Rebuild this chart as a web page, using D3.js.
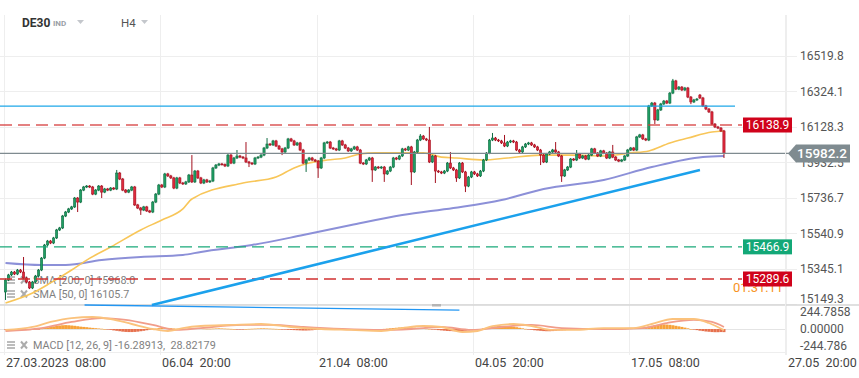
<!DOCTYPE html>
<html>
<head>
<meta charset="utf-8">
<script src="https://cdn.jsdelivr.net/npm/d3@7"></script>
<style>
  body { margin: 0; background: #fff; }
  svg { display: block; font-family: Roboto, "Noto Sans", sans-serif; }
  text { white-space: pre; }
</style>
</head>
<body>
<svg id="chart" width="859" height="378"></svg>
<script>
// ---- data (DE30, H4) ----
const opens = [
  15218,15284,15312,15328,15317,15339,15328,15295,15273,15240,
  15273,15306,15339,15405,15477,15499,15488,15516,15560,15571,
  15637,15659,15676,15687,15736,15714,15780,15797,15802,15797,
  15758,15780,15802,15769,15786,15780,15791,15786,15874,15841,
  15780,15769,15780,15797,15698,15681,15670,15687,15665,15659,
  15714,15758,15808,15797,15869,15858,15847,15791,15847,15819,
  15814,15825,15863,15825,15885,15847,15819,15836,15825,15830,
  15902,15918,15924,15921,15913,15973,15929,15957,15968,15962,
  15957,15935,15929,15924,15957,15962,15973,16012,16034,16029,
  16051,16023,16007,15990,16012,16062,16051,16029,16040,16001,
  15929,15946,15957,15946,15940,15902,15957,16040,16045,16012,
  16007,16001,16051,16029,16012,15996,16007,16018,16001,15929,
  15924,15946,15957,15891,15907,15902,15907,15869,15885,15907,
  15957,15951,15968,16007,16001,16018,15880,15990,16056,16078,
  16062,16056,15935,15968,15885,15880,15874,15885,15929,15902,
  15891,15847,15929,15880,15802,15852,15880,15869,15858,15885,
  15946,15984,16056,16067,16056,16051,16040,16023,16045,16051,
  16045,16001,15990,16018,16034,16040,16029,16018,16001,15973,
  15935,15979,15990,16001,15990,15968,15858,15891,15907,15951,
  15946,15979,15957,15968,15951,15973,16007,15984,15968,15996,
  15984,15957,15990,15962,15946,15940,15946,15968,16001,16012,
  16001,16073,16084,16062,16056,16244,16260,16167,16222,16255,
  16271,16260,16315,16382,16337,16348,16332,16343,16293,16266,
  16277,16304,16288,16244,16227,16211,16144,16128,16122,16106
];
const highs = [
  15292,15318,15334,15334,15345,15345,15411,15301,15279,15279,
  15312,15345,15411,15483,15505,15505,15522,15566,15577,15643,
  15665,15682,15693,15742,15742,15786,15803,15808,15808,15803,
  15786,15808,15808,15792,15792,15797,15797,15891,15880,15847,
  15786,15786,15803,15803,15704,15687,15693,15693,15671,15720,
  15764,15814,15814,15875,15875,15864,15853,15853,15853,15825,
  15831,15869,15973,15891,15891,15853,15842,15842,15836,15908,
  15924,15930,15930,15927,15979,15979,15963,16001,15974,15968,
  16045,15941,15935,15963,15968,15979,16018,16067,16040,16057,
  16057,16029,16013,16018,16068,16068,16057,16046,16046,16007,
  15952,15963,15963,15952,15946,15963,16046,16051,16051,16018,
  16013,16057,16057,16035,16018,16013,16024,16024,16007,15935,
  15952,15963,15963,15913,15913,15913,15913,15891,15913,15963,
  15963,15974,16013,16013,16024,16024,15996,16062,16089,16084,
  16068,16128,15974,15974,15891,15886,15891,15935,15990,15908,
  15897,15935,15935,15886,15858,15886,15886,15875,15891,15952,
  15990,16062,16095,16073,16062,16057,16084,16051,16057,16057,
  16051,16007,16024,16040,16046,16046,16035,16024,16007,15979,
  15985,15996,16007,16045,15996,15974,15897,15913,15957,15957,
  16001,15985,15974,15974,15979,16013,16013,15990,16002,16002,
  15990,15996,16029,15968,15952,15952,15974,16007,16018,16018,
  16079,16090,16090,16068,16250,16266,16266,16228,16261,16277,
  16277,16321,16393,16388,16354,16354,16349,16349,16299,16283,
  16288,16310,16294,16250,16233,16217,16150,16134,16128,16112
];
const lows = [
  15174,15278,15306,15311,15311,15322,15289,15267,15234,15234,
  15267,15300,15333,15399,15471,15482,15482,15510,15554,15565,
  15631,15653,15670,15681,15659,15708,15774,15791,15791,15752,
  15752,15774,15736,15763,15774,15774,15780,15780,15835,15774,
  15763,15763,15774,15692,15675,15643,15664,15659,15653,15653,
  15708,15752,15791,15791,15852,15841,15785,15785,15813,15808,
  15808,15819,15819,15819,15841,15813,15813,15819,15819,15824,
  15896,15912,15915,15907,15907,15923,15923,15951,15956,15951,
  15929,15907,15918,15918,15951,15956,15967,16006,16023,16023,
  16017,16001,15973,15984,16006,16045,16023,16023,15995,15923,
  15880,15940,15940,15934,15847,15896,15951,16034,16006,16001,
  15995,15995,16023,16006,15990,15990,16001,15995,15923,15918,
  15918,15940,15825,15885,15896,15896,15825,15863,15879,15901,
  15945,15945,15962,15995,15995,15808,15874,15984,16050,16056,
  16050,15929,15929,15819,15874,15868,15868,15879,15896,15885,
  15825,15841,15874,15769,15796,15846,15863,15852,15852,15879,
  15940,15978,16050,16050,16045,16034,16017,16017,16039,16039,
  15995,15984,15984,16012,16028,16023,16012,15995,15918,15929,
  15929,15973,15984,15984,15962,15825,15852,15885,15901,15940,
  15940,15951,15951,15945,15945,15967,15978,15962,15962,15978,
  15951,15951,15956,15940,15934,15934,15940,15962,15995,15995,
  15995,16067,16056,16050,16050,16238,16144,16161,16216,16249,
  16254,16254,16309,16331,16331,16326,16326,16287,16254,16260,
  16271,16282,16238,16221,16205,16138,16122,16116,16100,15957
];
const closes = [
  15284,15312,15328,15317,15339,15328,15295,15273,15240,15273,
  15306,15339,15405,15477,15499,15488,15516,15560,15571,15637,
  15659,15676,15687,15736,15714,15780,15797,15802,15797,15758,
  15780,15802,15769,15786,15780,15791,15786,15874,15841,15780,
  15769,15780,15797,15698,15681,15670,15687,15665,15659,15714,
  15758,15808,15797,15869,15858,15847,15791,15847,15819,15814,
  15825,15863,15825,15885,15847,15819,15836,15825,15830,15902,
  15918,15924,15921,15913,15973,15929,15957,15968,15962,15957,
  15935,15929,15924,15957,15962,15973,16012,16034,16029,16051,
  16023,16007,15990,16012,16062,16051,16029,16040,16001,15929,
  15946,15957,15946,15940,15902,15957,16040,16045,16012,16007,
  16001,16051,16029,16012,15996,16007,16018,16001,15929,15924,
  15946,15957,15891,15907,15902,15907,15869,15885,15907,15957,
  15951,15968,16007,16001,16018,15880,15990,16056,16078,16062,
  16056,15935,15968,15885,15880,15874,15885,15929,15902,15891,
  15847,15929,15880,15802,15852,15880,15869,15858,15885,15946,
  15984,16056,16067,16056,16051,16040,16023,16045,16051,16045,
  16001,15990,16018,16034,16040,16029,16018,16001,15973,15935,
  15979,15990,16001,15990,15968,15858,15891,15907,15951,15946,
  15979,15957,15968,15951,15973,16007,15984,15968,15996,15984,
  15957,15990,15962,15946,15940,15946,15968,16001,16012,16001,
  16073,16084,16062,16056,16244,16260,16167,16222,16255,16271,
  16260,16315,16382,16337,16348,16332,16343,16293,16266,16277,
  16282,16288,16244,16227,16211,16144,16128,16122,16106,15982.2
];

// moving averages, read at sample candles
const sma50Idx  = [0,9,15,22,27,35,45,52,59,62,79,90,96,101,107,113,118,123,134,139,145,150,159,167,178,188,199,208,214,221,227,235,239];
const sma50Vals = [15157,15212,15268,15339,15394,15466,15560,15615,15676,15731,15819,15852,15902,15929,15946,15957,15979,15985,15985,15985,15962,15957,15946,15957,15973,15973,15968,15985,15996,16040,16067,16100,16105.7];
const sma200Idx  = [0,12,20,32,45,59,65,82,99,115,132,149,165,179,199,215,232,239];
const sma200Vals = [15378,15367,15367,15394,15411,15422,15439,15477,15532,15587,15642,15681,15725,15786,15836,15907,15962,15968.0];

// MACD [12, 26, 9]
const macdIdx  = [0,9,15,22,29,35,42,49,54,59,65,75,85,95,105,115,125,132,139,145,152,157,162,169,175,182,189,199,209,215,222,229,234,239];
const macdVals = [-14,29,101,158,173,144,72,0,-29,14,43,58,72,29,0,-14,-29,14,43,29,-43,-29,43,72,43,-14,-14,14,14,72,144,144,86,-16.28913];
const signalIdx  = [0,12,22,32,40,49,57,65,79,89,99,112,125,135,145,155,165,175,185,199,212,220,229,235,239];
const signalVals = [-29,14,101,158,130,58,-14,14,58,58,29,0,-14,0,29,-14,29,58,14,0,14,86,130,101,28.82179];
const histVals = [
  -8,-10,-12,-12,-10,-8,-10,-14,-16,-12,-8,-4,
  6,14,22,30,38,44,50,54,56,54,50,46,40,34,30,26,20,16,12,
  8,4,0,-6,-12,
  -20,-26,-32,-38,-42,-44,-44,-42,-38,-32,-26,-18,-10,
  -2,6,12,16,18,16,12,
  8,4,2,0,4,8,10,12,10,8,6,4,4,6,8,10,8,6,4,2,0,-2,-4,-2,0,2,4,
  6,8,10,10,8,6,4,2,0,-4,-8,-12,-14,-16,-18,-20,-22,
  -22,-20,-18,-14,-10,-6,-2,2,4,6,6,4,2,0,-2,-4,-6,-10,-14,-16,-18,
  -16,-14,-10,-6,-2,2,6,10,14,18,22,24,26,26,24,
  20,16,14,10,6,2,-4,-10,-16,-20,-24,-28,-30,-32,-32,
  -30,-28,-26,-22,-18,-12,-6,0,8,16,
  24,32,38,42,44,44,42,38,32,26,18,10,2,-6,-12,
  -18,-22,-26,-30,-32,-32,-30,-26,-22,-20,-18,-14,-10,-6,-2,2,6,10,12,14,
  14,12,10,8,6,4,2,0,0,2,4,6,8,10,14,18,24,
  30,38,46,54,60,64,66,64,60,54,46,38,30,20,10,0,
  -8,-16,-24,-30,-36,-40,-44,-46,-46,-44,-45
];

// horizontal levels and drawn lines
const levelRed1 = 16138.9, levelLast = 15982.2, levelGreen = 15466.9, levelRed2 = 15289.6;
const resistance = 16243;
const trendUp = [[48.7, 15146], [231, 15891]];
const trendThin = [[26.3, 15146], [151, 15118]];

const priceTicks = [16519.8, 16324.1, 16128.3, 15932.5, 15736.7, 15540.9, 15345.1, 15149.3];
const macdTicks = ['244.7858', '0.00000', '-244.786'];
const macdTickVals = [244.7858, 0, -244.786];
const timeTickIdx = [0, 52, 104, 156, 208, 260];
const timeTickLabels = ['27.03.2023  08:00', '06.04  20:00', '21.04  08:00', '04.05  20:00', '17.05  08:00', '27.05  20:00'];

// ---- layout ----
const W = 859, H = 378;
const plotRight = 785;
const priceTop = 15, priceBottom = 305;
const macdTop = 305, macdBottom = 352;

const svg = d3.select('#chart');

const x = d3.scaleLinear().domain([0, 260]).range([4, plotRight + 0.6]);
const y = d3.scaleLinear().domain([15146.2, 16745.6]).range([priceBottom, priceTop]);
const ym = d3.scaleLinear().domain([-331.2, 345.6]).range([macdBottom, macdTop]);

const cx = i => x(i) + 1.5;

svg.append('defs').append('clipPath').attr('id', 'priceClip')
  .append('rect').attr('x', 0).attr('y', priceTop).attr('width', plotRight).attr('height', priceBottom - priceTop);

// grid
const grid = svg.append('g').attr('class', 'grid');
grid.selectAll('line.h').data(priceTicks).join('line')
  .attr('x1', 0).attr('x2', 797)
  .attr('y1', d => Math.round(y(d)) + 0.5).attr('y2', d => Math.round(y(d)) + 0.5)
  .attr('stroke', '#eeeeee');
grid.selectAll('line.v').data(timeTickIdx).join('line')
  .attr('x1', d => Math.round(x(d)) + 0.5).attr('x2', d => Math.round(x(d)) + 0.5)
  .attr('y1', priceTop).attr('y2', 355)
  .attr('stroke', '#eeeeee');
grid.append('line').attr('x1', 0).attr('x2', plotRight).attr('y1', macdBottom + 0.5).attr('y2', macdBottom + 0.5).attr('stroke', '#eeeeee');
grid.append('line').attr('x1', 0).attr('x2', plotRight).attr('y1', Math.round(ym(0)) + 0.5).attr('y2', Math.round(ym(0)) + 0.5).attr('stroke', '#e4e4e4');

// header
const head = svg.append('g');
head.append('text').attr('x', 22).attr('y', 27).attr('font-size', 12).attr('font-weight', 'bold').attr('fill', '#333').text('DE30');
head.append('text').attr('x', 53).attr('y', 26).attr('font-size', 8).attr('font-weight', 'bold').attr('fill', '#9aa0a6').text('IND');
head.append('text').attr('x', 121).attr('y', 26.5).attr('font-size', 11.5).attr('fill', '#555').text('H4');
[[77, 20], [141, 20]].forEach(([tx, ty]) => {
  head.append('path').attr('d', `M${tx},${ty}L${tx + 7},${ty}L${tx + 3.5},${ty + 4}Z`).attr('fill', '#c4c7cc');
});

// legend
const legend = svg.append('g');
const legendRows = [
  { y: 280, text: 'SMA [200, 0] 15968.0' },
  { y: 294, text: 'SMA [50, 0] 16105.7' },
  { y: 345, text: 'MACD [12, 26, 9] -16.28913,  28.82179' }
];
legendRows.forEach(r => {
  const g = legend.append('g').attr('opacity', 0.85);
  [-3, 0, 3].forEach(dy => g.append('rect').attr('x', 7).attr('y', r.y + dy - 0.8).attr('width', 8).attr('height', 1.6).attr('fill', '#9e9e9e'));
  g.append('path').attr('d', `M21,${r.y - 3.5}L27,${r.y + 3.5}M27,${r.y - 3.5}L21,${r.y + 3.5}`)
    .attr('stroke', '#9e9e9e').attr('stroke-width', 2);
  g.append('text').attr('x', 33).attr('y', r.y + 4).attr('font-size', 10.8).attr('fill', '#6b6b6b').text(r.text);
});

// price panel
const pricePanel = svg.append('g').attr('clip-path', 'url(#priceClip)');

const smaLine = d3.line().x(d => cx(d[0])).y(d => y(d[1])).curve(d3.curveMonotoneX);
pricePanel.append('path').datum(sma200Idx.map((d, k) => [d, sma200Vals[k]]))
  .attr('d', smaLine).attr('fill', 'none').attr('stroke', '#8c90d8').attr('stroke-width', 2);
pricePanel.append('path').datum(sma50Idx.map((d, k) => [d, sma50Vals[k]]))
  .attr('d', smaLine).attr('fill', 'none').attr('stroke', '#f8c659').attr('stroke-width', 1.6);

// horizontal levels
const hLine = (g, price, x2, color, dash, width) => g.append('line')
  .attr('x1', 0).attr('x2', x2)
  .attr('y1', y(price)).attr('y2', y(price))
  .attr('stroke', color).attr('stroke-width', width)
  .attr('stroke-dasharray', dash);

const lines = svg.append('g');
hLine(lines, resistance, 735, '#1ea7e8', null, 1.3);
hLine(lines, levelRed1, 742, '#d63c3c', '12,6', 1.4).attr('opacity', 0.85);
hLine(lines, levelGreen, 742, '#1aa97a', '12,6', 1.3);
hLine(lines, levelRed2, 742, '#d13030', '12,6', 1.3);

// candles
const candles = pricePanel.append('g').selectAll('g.candle')
  .data(closes.map((c, i) => ({ i, o: opens[i], h: highs[i], l: lows[i], c })))
  .join('g').attr('class', 'candle');
const up = d => d.c >= d.o;
candles.append('line')
  .attr('x1', d => cx(d.i)).attr('x2', d => cx(d.i))
  .attr('y1', d => y(d.h)).attr('y2', d => y(d.l))
  .attr('stroke', d => up(d) ? '#0f6b41' : '#a3101f').attr('stroke-width', 1);
candles.append('rect')
  .attr('x', d => cx(d.i) - 1.1).attr('width', 2.2)
  .attr('y', d => y(Math.max(d.o, d.c)))
  .attr('height', d => Math.max(0.8, Math.abs(y(d.o) - y(d.c))))
  .attr('fill', d => up(d) ? '#1f9e63' : '#df2a3d')
  .attr('stroke', d => up(d) ? '#0f6b41' : '#a3101f').attr('stroke-width', 0.6);

// last price line
hLine(lines, levelLast, 790, '#7f8b90', null, 1.3);

// trend lines
const tl = d3.line().x(d => cx(d[0])).y(d => y(d[1]));

// panel separator
svg.append('line').attr('x1', 0).attr('x2', W).attr('y1', macdTop).attr('y2', macdTop)
  .attr('stroke', '#d6d6d6').attr('stroke-width', 1.5);
svg.append('rect').attr('x', 432).attr('y', 304).attr('width', 9).attr('height', 2.5).attr('fill', '#b5b5b5');

svg.append('path').datum(trendUp).attr('d', tl).attr('stroke', '#1ba1ec').attr('stroke-width', 2.6).attr('fill', 'none');
svg.append('path').datum(trendThin).attr('d', tl).attr('stroke', '#2196f3').attr('stroke-width', 1.4).attr('fill', 'none');

// MACD panel
const macdPanel = svg.append('g');
macdPanel.selectAll('rect').data(histVals.map((v, i) => ({ i, v }))).join('rect')
  .attr('x', d => cx(d.i) - 1.5).attr('width', 3)
  .attr('y', d => Math.min(ym(0), ym(d.v)))
  .attr('height', d => Math.max(0.6, Math.abs(ym(d.v) - ym(0))))
  .attr('fill', d => d.v >= 0 ? '#f7a23a' : '#e6714e');
const ml = d3.line().x(d => cx(d[0])).y(d => ym(d[1])).curve(d3.curveMonotoneX);
macdPanel.append('path').datum(signalIdx.map((d, k) => [d, signalVals[k]]))
  .attr('d', ml).attr('fill', 'none').attr('stroke', '#f19d8a').attr('stroke-width', 1.8);
macdPanel.append('path').datum(macdIdx.map((d, k) => [d, macdVals[k]]))
  .attr('d', ml).attr('fill', 'none').attr('stroke', '#fbc27c').attr('stroke-width', 1.8);

// right axis
svg.append('line').attr('x1', plotRight + 0.5).attr('x2', plotRight + 0.5).attr('y1', priceTop).attr('y2', 355).attr('stroke', '#eeeeee');
const axis = svg.append('g').attr('font-size', 12).attr('fill', '#555');
axis.selectAll('text.p').data(priceTicks).join('text')
  .attr('x', 800).attr('y', (d, k) => Math.min(y(d), 299) + 4.3).text(d => d.toFixed(1));
axis.selectAll('text.m').data(macdTicks).join('text')
  .attr('x', 800).attr('y', (d, k) => ym(macdTickVals[k]) + 4.3).text(d => d);

// countdown (partly hidden under the level box)
svg.append('text').attr('x', 733).attr('y', 292).attr('font-size', 13).attr('fill', '#f7931e').text('01:31:11');

// level tags
const tag = (price, fill, txt) => {
  const cy = y(price);
  svg.append('rect').attr('x', 743).attr('y', cy - 7.5).attr('width', 49).attr('height', 15).attr('fill', fill);
  svg.append('text').attr('x', 767.5).attr('y', cy + 4.3).attr('text-anchor', 'middle')
    .attr('font-size', 12).attr('fill', '#fff').text(txt);
};
tag(levelRed1, '#d0021b', levelRed1.toFixed(1));
tag(levelGreen, '#13a877', levelGreen.toFixed(1));
tag(levelRed2, '#d0021b', levelRed2.toFixed(1));

const ly = y(levelLast);
svg.append('path')
  .attr('d', `M788,${ly}L796,${ly - 9}L850,${ly - 9}L850,${ly + 9}L796,${ly + 9}Z`)
  .attr('fill', '#7f8b90');
svg.append('text').attr('x', 822).attr('y', ly + 5).attr('text-anchor', 'middle')
  .attr('font-size', 13.5).attr('font-weight', 500).attr('fill', '#fff').text(levelLast.toFixed(1));

// time axis
svg.append('g').attr('font-size', 12.5).attr('fill', '#444')
  .selectAll('text').data(timeTickIdx).join('text')
  .attr('x', d => Math.round(x(d)) + 2).attr('y', 367)
  .text((d, k) => timeTickLabels[k]);
</script>
</body>
</html>
